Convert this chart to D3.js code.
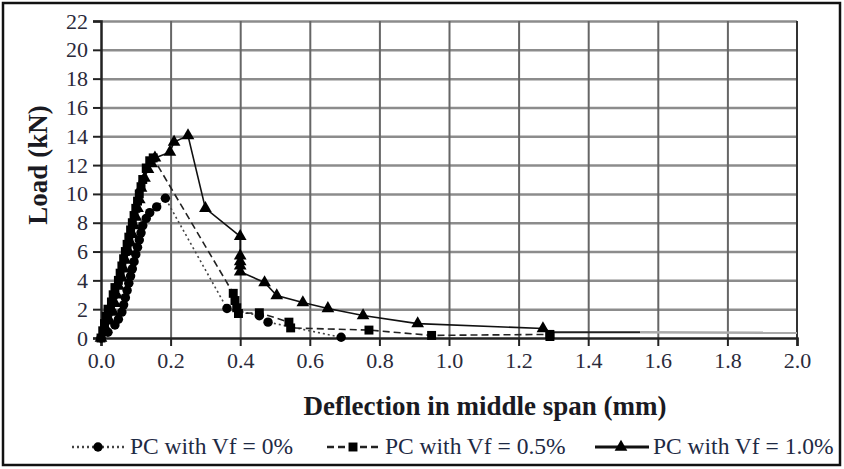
<!DOCTYPE html>
<html>
<head>
<meta charset="utf-8">
<script src="https://cdn.jsdelivr.net/npm/d3@7"></script>
<style>
body { margin: 0; background: #fff; }
text { font-family: "Liberation Serif", "Times New Roman", serif; }
</style>
</head>
<body>
<div id="chart"></div>
<script>
// ticks
var xTicks = [0.0, 0.2, 0.4, 0.6, 0.8, 1.0, 1.2, 1.4, 1.6, 1.8, 2.0];
var yTicks = [0, 2, 4, 6, 8, 10, 12, 14, 16, 18, 20, 22];

// PC with Vf = 0%
var defl0 = [0.00, 0.02, 0.04, 0.05, 0.06, 0.065, 0.07, 0.075, 0.08, 0.085, 0.09, 0.095, 0.10, 0.105, 0.11, 0.115, 0.12, 0.13, 0.14, 0.16, 0.185, 0.362, 0.455, 0.48, 0.69];
var load0 = [0.0, 0.4, 0.9, 1.3, 1.8, 2.3, 2.8, 3.3, 3.8, 4.3, 4.8, 5.3, 5.8, 6.3, 6.8, 7.3, 7.8, 8.3, 8.7, 9.1, 9.7, 2.05, 1.55, 1.1, 0.05];

// PC with Vf = 0.5%
var defl05 = [0.00, 0.005, 0.01, 0.015, 0.02, 0.03, 0.035, 0.04, 0.05, 0.055, 0.06, 0.065, 0.07, 0.075, 0.08, 0.085, 0.09, 0.095, 0.10, 0.105, 0.11, 0.115, 0.12, 0.13, 0.14, 0.15, 0.38, 0.385, 0.39, 0.395, 0.455, 0.54, 0.545, 0.77, 0.95, 1.29, 1.29];
var load05 = [0.0, 0.5, 1.0, 1.5, 2.0, 2.5, 3.0, 3.5, 4.0, 4.5, 5.0, 5.5, 6.0, 6.5, 7.0, 7.5, 8.0, 8.5, 9.0, 9.5, 10.0, 10.5, 11.0, 11.8, 12.3, 12.5, 3.1, 2.6, 2.1, 1.7, 1.75, 1.1, 0.7, 0.55, 0.18, 0.25, 0.1];

// PC with Vf = 1.0%
var defl10 = [0.00, 0.015, 0.025, 0.035, 0.04, 0.045, 0.05, 0.06, 0.065, 0.07, 0.08, 0.085, 0.09, 0.095, 0.10, 0.105, 0.11, 0.115, 0.125, 0.135, 0.145, 0.155, 0.198, 0.21, 0.25, 0.30, 0.40, 0.40, 0.40, 0.40, 0.40, 0.47, 0.505, 0.58, 0.652, 0.753, 0.91, 1.27];
var load10 = [0.0, 0.6, 1.2, 1.8, 2.4, 3.0, 3.6, 4.2, 4.8, 5.4, 6.0, 6.6, 7.2, 7.8, 8.4, 9.0, 9.6, 10.4, 11.1, 11.7, 12.1, 12.5, 12.9, 13.6, 14.05, 9.0, 7.05, 5.7, 5.3, 5.0, 4.6, 3.85, 2.95, 2.46, 2.05, 1.56, 1.0, 0.66];
// unmarked end of the Vf = 1.0% curve
var tail10Defl = [1.27, 1.29, 1.55];
var tail10Load = [0.66, 0.40, 0.40];
var fade10Defl = [1.55, 2.0];
var fade10Load = [0.40, 0.36];

var names = ["PC with Vf = 0%", "PC with Vf = 0.5%", "PC with Vf = 1.0%"];

var W = 844, H = 469;
var margin = {top: 21, right: 47, bottom: 131, left: 101},
    width = W - margin.left - margin.right,
    height = H - margin.top - margin.bottom;

function zip(a, b) { return a.map(function(v, i) { return [v, b[i]]; }); }

var series = [
    {name: names[0], pts: zip(defl0, load0), dash: "2,3", stroke: "#444", sym: d3.symbolCircle, size: 70},
    {name: names[1], pts: zip(defl05, load05), dash: "7,4", stroke: "#222", sym: d3.symbolSquare, size: 80},
    {name: names[2], pts: zip(defl10, load10), dash: null, stroke: "#111", sym: d3.symbolTriangle, size: 70}
];

var root = d3.select("#chart").append("svg")
    .attr("width", W)
    .attr("height", H);

root.append("rect")
    .attr("x", 3).attr("y", 3)
    .attr("width", 837).attr("height", 462)
    .attr("fill", "none")
    .attr("stroke", "#111")
    .attr("stroke-width", 2.5);

var svg = root.append("g")
    .attr("transform", "translate(" + margin.left + "," + margin.top + ")");

var x = d3.scaleLinear().domain([0, 2]).range([0, width]);
var y = d3.scaleLinear().domain([0, 22]).range([height, 0]);

/* grid */
svg.append("g")
    .call(d3.axisLeft(y).tickValues(yTicks.slice(1)).tickSize(-width).tickFormat(""))
    .call(g => g.select(".domain").remove())
    .selectAll("line")
    .attr("stroke", "#8c8c8c")
    .attr("stroke-width", 2.5);

svg.append("g")
    .call(d3.axisBottom(x).tickValues(xTicks.slice(1, -1)).tickSize(height).tickFormat(""))
    .call(g => g.select(".domain").remove())
    .selectAll("line")
    .attr("stroke", "#666")
    .attr("stroke-width", 2);

// right border
svg.append("line")
    .attr("x1", width).attr("x2", width)
    .attr("y1", 0).attr("y2", height)
    .attr("stroke", "#333")
    .attr("stroke-width", 2);

/* axes */
var yAxis = svg.append("g")
    .call(d3.axisLeft(y).tickValues(yTicks).tickSize(8).tickPadding(5).tickFormat(d3.format("d")));
var xAxis = svg.append("g")
    .attr("transform", "translate(0," + height + ")")
    .call(d3.axisBottom(x).tickValues(xTicks).tickSize(8).tickPadding(6).tickFormat(d3.format(".1f")));

[xAxis, yAxis].forEach(function(a) {
    a.select(".domain").attr("stroke", "#222").attr("stroke-width", 2.5);
    a.selectAll(".tick line").attr("stroke", "#222").attr("stroke-width", 2);
    a.selectAll(".tick text")
        .attr("font-family", "Liberation Serif, serif")
        .attr("font-size", 22)
        .attr("fill", "#2a2a3a");
});

/* lines and markers */
var line = d3.line()
    .x(d => x(d[0]))
    .y(d => y(d[1]));

series.forEach(function(s) {
    svg.append("path")
        .attr("d", line(s.pts))
        .attr("fill", "none")
        .attr("stroke", s.stroke)
        .attr("stroke-width", 1.6)
        .attr("stroke-dasharray", s.dash);
});

svg.append("path")
    .attr("d", line(zip(tail10Defl, tail10Load)))
    .attr("fill", "none")
    .attr("stroke", "#222")
    .attr("stroke-width", 2.2);
svg.append("path")
    .attr("d", line(zip(fade10Defl, fade10Load)))
    .attr("fill", "none")
    .attr("stroke", "#aaa")
    .attr("stroke-width", 2.5);

series.forEach(function(s) {
    svg.append("g")
        .selectAll("path")
        .data(s.pts).enter()
        .append("path")
        .attr("transform", d => "translate(" + x(d[0]) + "," + y(d[1]) + ")")
        .attr("d", d3.symbol().type(s.sym).size(s.size))
        .attr("fill", "#000");
});

/* axis titles */
root.append("text")
    .attr("x", 485)
    .attr("y", 415)
    .attr("text-anchor", "middle")
    .attr("font-weight", "bold")
    .attr("font-size", 27)
    .attr("fill", "#1a1a22")
    .text("Deflection in middle span (mm)");

root.append("text")
    .attr("transform", "translate(47,165) rotate(-90)")
    .attr("text-anchor", "middle")
    .attr("font-weight", "bold")
    .attr("font-size", 27)
    .attr("fill", "#1a1a22")
    .text("Load (kN)");

/* legend */
var legendX = [72, 327, 595];
var legendY = 447;
var legend = root.selectAll(".leg")
    .data(series).enter()
    .append("g")
    .attr("class", "leg")
    .attr("transform", (d, i) => "translate(" + legendX[i] + "," + legendY + ")");

legend.append("line")
    .attr("x1", 0).attr("x2", 54)
    .attr("stroke", d => d.stroke)
    .attr("stroke-width", d => d.dash ? 2.5 : 3)
    .attr("stroke-dasharray", d => d.dash);
legend.append("path")
    .attr("transform", "translate(26,0)")
    .attr("d", d => d3.symbol().type(d.sym).size(d.size)())
    .attr("fill", "#000");
legend.append("text")
    .attr("x", 58)
    .attr("y", 7)
    .attr("font-size", 23.5)
    .attr("fill", "#1e2a44")
    .text(d => d.name);
</script>
</body>
</html>
